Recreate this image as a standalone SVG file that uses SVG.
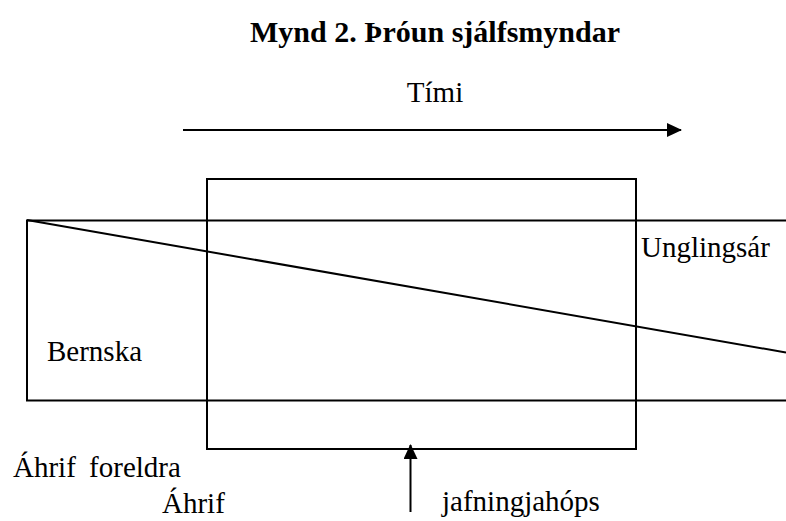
<svg xmlns="http://www.w3.org/2000/svg" width="786" height="521" viewBox="0 0 786 521">
<style>
.t{font-family:'Liberation Serif','Times New Roman',Times,'DejaVu Serif',serif;font-size:29px;fill:#000}
.b{font-weight:bold;font-size:30px}
.ln{stroke:#000;stroke-width:2;fill:none}
</style>
<defs>
<marker id="ah" markerWidth="15" markerHeight="14" refX="14" refY="7" orient="auto" markerUnits="userSpaceOnUse">
<path d="M0,0 L15,7 L0,14 Z" fill="#000"/>
</marker>
</defs>
<rect width="786" height="521" fill="#fff"/>
<g font-family="Liberation Serif, Times New Roman, serif">
<text class="t b" x="435" y="42" text-anchor="middle">Mynd 2. Þróun sjálfsmyndar</text>
<g id="time">
<text class="t" x="435" y="102" text-anchor="middle">Tími</text>
</g>
<g id="bernska">
<path class="ln" d="M786,220.5 H27 V400.5 H786"/>
<text class="t" x="47" y="361">Bernska</text>
</g>
<g id="box">
<rect class="ln" x="207" y="179" width="429" height="270"/>
</g>
<g id="unglingsar">
<text class="t" x="641" y="257">Unglingsár</text>
</g>
<g id="labels">
<text class="t" x="13" y="477" style="word-spacing:6px">Áhrif foreldra</text>
<text class="t" x="162" y="513">Áhrif</text>
<text class="t" x="442" y="511">jafningjahóps</text>
</g>
</g>
<g id="connectors">
<line class="ln" x1="27" y1="220" x2="786" y2="352.5"/>
<line class="ln" x1="183" y1="130" x2="681" y2="130" marker-end="url(#ah)"/>
<line class="ln" x1="410.5" y1="512" x2="410.5" y2="445" marker-end="url(#ah)"/>
</g>
</svg>
